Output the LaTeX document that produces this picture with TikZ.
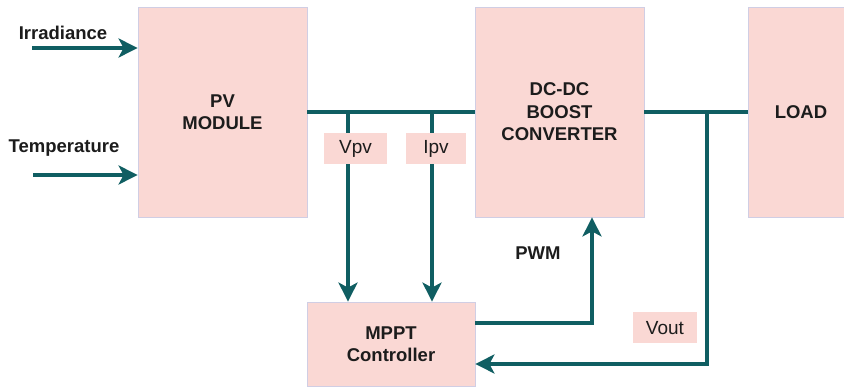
\documentclass[tikz,border=0pt]{standalone}
\usepackage{fontspec}
\setmainfont{Liberation Sans}
\usepackage{xcolor}
\definecolor{sarcelle}{RGB}{16,94,98}
\definecolor{rosepale}{RGB}{250,216,212}
\definecolor{lavande}{RGB}{208,206,228}
\definecolor{encre}{RGB}{28,28,28}
\usepackage{tikz}
\usetikzlibrary{arrows.meta,positioning}

\begin{document}
\begin{tikzpicture}[x=1pt, y=-1pt,
      bloc/.style={draw=lavande, line width=0.8pt, fill=rosepale, inner sep=0pt,
                   align=center, text=encre, font=\fontsize{18.5}{22.5}\selectfont\bfseries},
      mesure/.style={fill=rosepale, inner sep=0pt, text=encre,
                     minimum height=31pt, font=\fontsize{19}{22}\selectfont},
      etiq/.style={text=encre, inner sep=0pt, font=\fontsize{18.5}{22}\selectfont\bfseries},
      fil/.style={draw=sarcelle, line width=3.5pt},
      fleche/.style={fil, -{Stealth[length=19pt, width=19pt, inset=5pt]}}]
    \useasboundingbox (0,0) rectangle (844,387);
    % blocs
    \node[bloc, minimum width=169pt, minimum height=210pt] (pv)   at (222.5,112) {PV\\MODULE};
    \node[bloc, minimum width=169pt, minimum height=210pt] (dc)   at (559.5,112) {DC-DC\\BOOST\\CONVERTER};
    \node[bloc, minimum width=106pt, minimum height=210pt] (load) at (801,112)   {LOAD};
    \node[bloc, minimum width=168pt, minimum height=84pt]  (mppt) at (391,344)   {MPPT\\Controller};
    % entrees du module
    \node[etiq] (irr)  at (63,33)  {Irradiance};
    \node[etiq] (temp) at (64,148) {Temperature};
    \coordinate (irrdep)  at (32,48);
    \coordinate (tempdep) at (33,175);
    \draw[fleche] (irrdep)  -- (irrdep -| pv.west);
    \draw[fleche] (tempdep) -- (tempdep -| pv.west);
    % bus continu et mesures
    \coordinate (tapv) at (348,112);
    \coordinate (tapi) at (432,112);
    \coordinate (jn)   at (707,112);
    \draw[fil] (pv.east) -- (dc.west);
    \draw[fil] (dc.east) -- (load.west);
    \draw[fleche] (tapv) -- (tapv |- mppt.north);
    \draw[fleche] (tapi) -- (tapi |- mppt.north);
    % commande PWM
    \coordinate (pwmc) at (592,323);
    \draw[fleche] (mppt.east |- pwmc) -- (pwmc) -- (pwmc |- dc.south);
    \node[etiq] (pwm) at (538,253) {PWM};
    % retour tension de sortie
    \coordinate (fb) at (707,364);
    \draw[fleche] (jn) -- (fb) -- (fb -| mppt.east);
    % etiquettes des mesures
    \node[mesure, minimum width=63pt] (vpv)  at (355.5,148.5) {Vpv};
    \node[mesure, minimum width=60pt] (ipv)  at (436,148.5)   {Ipv};
    \node[mesure, minimum width=64pt] (vout) at (665,328)     {Vout};
  \end{tikzpicture}
\end{document}
